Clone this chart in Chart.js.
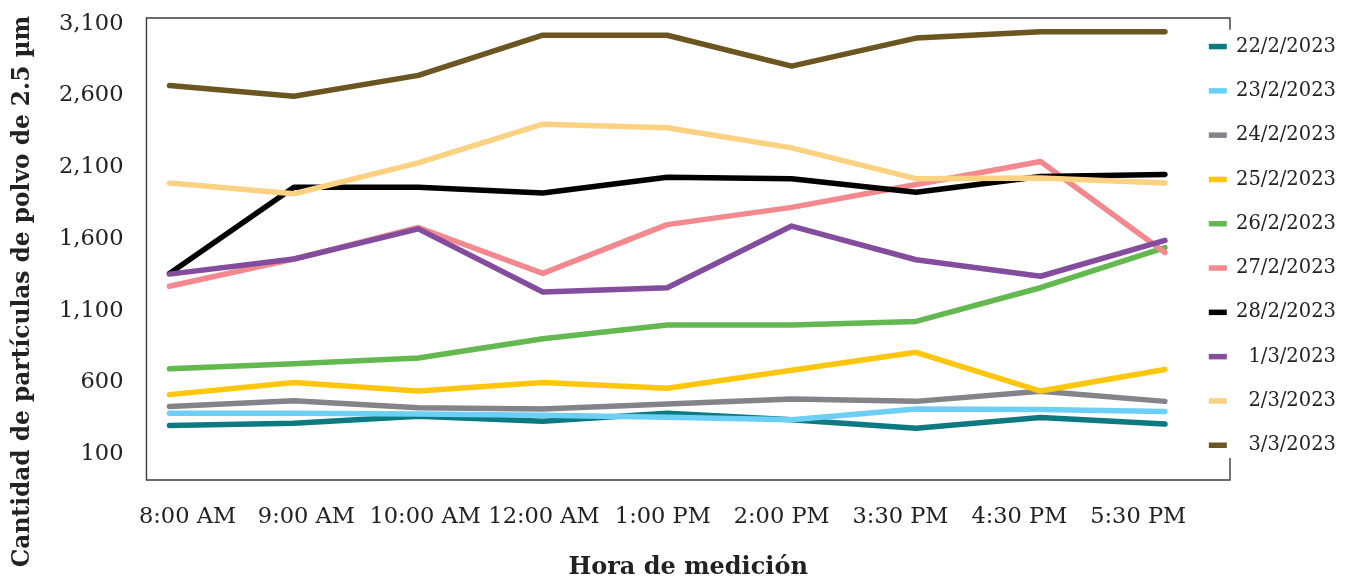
<!DOCTYPE html>
<html lang="es">
<head>
<meta charset="utf-8">
<title>Partículas de polvo de 2.5 µm por hora de medición</title>
<script src="https://cdn.jsdelivr.net/npm/chart.js@4.4.1/dist/chart.umd.min.js"></script>
<style>
  html, body { margin: 0; padding: 0; background: #ffffff; }
  #wrap { width: 1349px; height: 583px; position: relative; }
</style>
</head>
<body>
<div id="wrap"><canvas id="chart" width="1349" height="583"></canvas></div>
<script>
// Hour of each measurement
const times = ['8:00 AM', '9:00 AM', '10:00 AM', '12:00 AM', '1:00 PM', '2:00 PM', '3:30 PM', '4:30 PM', '5:30 PM'];

// Particle counts per day
const day22Feb = [300, 315, 365, 330, 385, 340, 280, 355, 310];
const day23Feb = [385, 385, 380, 372, 358, 340, 415, 412, 398];
const day24Feb = [433, 473, 424, 415, 450, 485, 468, 538, 468];
const day25Feb = [515, 600, 540, 600, 560, 685, 810, 540, 690];
const day26Feb = [695, 730, 770, 905, 1000, 1000, 1025, 1260, 1540];
const day27Feb = [1270, 1460, 1680, 1360, 1700, 1820, 1980, 2140, 1505];
const day28Feb = [1360, 1960, 1960, 1920, 2030, 2020, 1925, 2035, 2050];
const day1Mar = [1355, 1460, 1670, 1230, 1260, 1690, 1455, 1340, 1590];
const day2Mar = [1990, 1915, 2130, 2400, 2375, 2235, 2020, 2025, 1990];
const day3Mar = [2670, 2595, 2740, 3020, 3020, 2805, 3000, 3045, 3045];

// Legend labels
const dayLabels = ['22/2/2023', '23/2/2023', '24/2/2023', '25/2/2023', '26/2/2023', '27/2/2023', '28/2/2023', '1/3/2023', '2/3/2023', '3/3/2023'];

// Value axis tick labels
const yTicks = [100, 600, 1100, 1600, 2100, 2600, 3100];

const daySeries = [day22Feb, day23Feb, day24Feb, day25Feb, day26Feb, day27Feb, day28Feb, day1Mar, day2Mar, day3Mar];
const dayColors = ['#0d7a82', '#6bcff6', '#838489', '#ffc60b', '#63b84f', '#f3898e', '#000000', '#834c9d', '#fad282', '#6b5621'];

const FONT = "'DejaVu Serif', 'Liberation Serif', serif";
const TEXT = '#222222';

const datasets = daySeries.map((values, i) => ({
  label: dayLabels[i],
  data: values.map((v, k) => ({ x: k, y: v })),
  borderColor: dayColors[i],
  backgroundColor: dayColors[i],
  borderWidth: 5.5,
  borderCapStyle: 'round',
  borderJoinStyle: 'round',
  pointRadius: 0,
  pointHoverRadius: 0,
  tension: 0,
  // later days are painted over earlier ones
  order: daySeries.length - i,
  xAxisID: 'x',
  yAxisID: 'y'
}));

// Legend overlaps the right edge of the plot frame
const legendPlacement = {
  id: 'legendPlacement',
  afterLayout(chart) {
    const lg = chart.legend;
    const area = chart.chartArea;
    lg.left = area.right - 46;
    lg.width = lg.right - lg.left;
    lg.top += 12;
    lg.bottom += 12;
  }
};

// Plot frame, interrupted on the right where the legend sits
const plotFrame = {
  id: 'plotFrame',
  beforeDatasetsDraw(chart) {
    const { ctx, chartArea: a, legend } = chart;
    const boxes = legend.legendHitBoxes;
    const first = boxes[0];
    const last = boxes[boxes.length - 1];
    const gapTop = first.top - 7;
    const gapBottom = last.top + last.height + 3;
    ctx.save();
    ctx.strokeStyle = '#3b3b3b';
    ctx.lineWidth = 1.4;
    ctx.beginPath();
    ctx.moveTo(a.right, gapTop);
    ctx.lineTo(a.right, a.top);
    ctx.lineTo(a.left, a.top);
    ctx.lineTo(a.left, a.bottom);
    ctx.lineTo(a.right, a.bottom);
    ctx.lineTo(a.right, gapBottom);
    ctx.stroke();
    ctx.restore();
  }
};

new Chart(document.getElementById('chart'), {
  type: 'line',
  data: { datasets },
  plugins: [legendPlacement, plotFrame],
  options: {
    responsive: false,
    animation: false,
    events: [],
    layout: { padding: { top: 0, right: 13, bottom: 0, left: 0 } },
    plugins: {
      tooltip: { enabled: false },
      title: {
        display: true,
        position: 'left',
        text: 'Cantidad de partículas de polvo de 2.5 µm',
        color: TEXT,
        font: { family: FONT, size: 23.3, weight: 'bold' },
        padding: { top: 8.5, bottom: 0 }
      },
      legend: {
        display: true,
        position: 'right',
        fullSize: true,
        align: 'start',
        maxWidth: 106,
        labels: {
          color: TEXT,
          font: { family: FONT, size: 19.5 },
          usePointStyle: true,
          pointStyle: 'line',
          pointStyleWidth: 18,
          padding: 24.8,
          textAlign: 'right',
          sort: (a, b) => a.datasetIndex - b.datasetIndex
        }
      }
    },
    scales: {
      x: {
        type: 'linear',
        position: 'top',
        min: -0.185,
        max: 8.523,
        grid: { display: false },
        border: { display: false },
        ticks: { display: false },
        afterFit(scale) { scale.height = 18; }
      },
      xl: {
        type: 'linear',
        position: 'bottom',
        min: -0.345,
        max: 8.773,
        grid: { display: false, drawTicks: false },
        border: { display: false },
        afterBuildTicks(scale) { scale.ticks = times.map((_, i) => ({ value: i })); },
        afterFit(scale) {
          scale.height = 103;
          scale.paddingLeft = 0;
          scale.paddingRight = 0;
        },
        ticks: {
          autoSkip: false,
          maxRotation: 0,
          minRotation: 0,
          padding: 24,
          color: TEXT,
          font: { family: FONT, size: 22.5 },
          callback: (v) => times[v]
        },
        title: {
          display: true,
          text: 'Hora de medición',
          color: TEXT,
          font: { family: FONT, size: 24, weight: 'bold' },
          padding: { top: 0, bottom: 1 }
        }
      },
      y: {
        type: 'linear',
        position: 'left',
        min: -80,
        max: 3140,
        grid: { display: false, drawTicks: false },
        border: { display: false },
        afterBuildTicks(scale) { scale.ticks = yTicks.map(v => ({ value: v })); },
        afterFit(scale) {
          scale.width = 110;
          scale.paddingTop = 0;
          scale.paddingBottom = 0;
        },
        ticks: {
          padding: 23,
          color: TEXT,
          font: { family: FONT, size: 22.5 },
          callback: (v) => v.toLocaleString('en-US')
        }
      }
    }
  }
});
</script>
</body>
</html>
